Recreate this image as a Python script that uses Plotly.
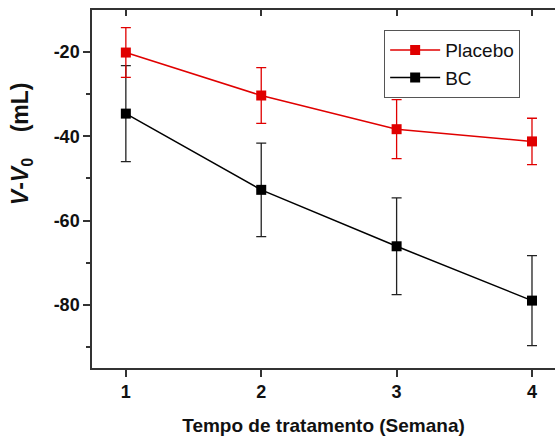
import plotly.graph_objects as go

weeks = [1, 2, 3, 4]
placebo = [-20.1, -30.3, -38.3, -41.2]
placebo_err = [5.9, 6.6, 7.0, 5.5]
bc = [-34.6, -52.7, -66.1, -79.0]
bc_err = [11.4, 11.1, 11.5, 10.7]
x_ticks = [1, 2, 3, 4]
y_ticks = [-80, -60, -40, -20]
y_tick_labels = ["-80", "-60", "-40", "-20"]

RED = "#e00000"
BLK = "#000000"
AX = "#333333"
FONT = "Liberation Sans"

fig = go.Figure()
fig.add_trace(go.Scatter(
    x=weeks, y=bc, name="BC", mode="lines+markers",
    line=dict(color=BLK, width=1.5),
    marker=dict(symbol="square", size=10, color=BLK),
    error_y=dict(type="data", array=bc_err, visible=True, color="#222222", thickness=1.3, width=5),
    legendrank=2,
))
fig.add_trace(go.Scatter(
    x=weeks, y=placebo, name="Placebo", mode="lines+markers",
    line=dict(color=RED, width=1.5),
    marker=dict(symbol="square", size=10, color=RED),
    error_y=dict(type="data", array=placebo_err, visible=True, color=RED, thickness=1.3, width=5),
    legendrank=1,
))
# invisible trace to carry the top (mirror) axis with inward ticks
fig.add_trace(go.Scatter(x=weeks, y=bc, xaxis="x2", mode="markers",
                         marker=dict(opacity=0), showlegend=False, hoverinfo="skip"))

fig.update_layout(
    width=555, height=436,
    margin=dict(l=92, r=0, t=10, b=68),
    paper_bgcolor="white", plot_bgcolor="white",
    font=dict(family=FONT, color="#111111"),
    showlegend=True,
    legend=dict(x=0.631, y=0.944, xanchor="left", yanchor="top",
                bordercolor="#555555", borderwidth=1, bgcolor="white",
                font=dict(family=FONT, size=19, color="#111111"),
                tracegroupgap=0, itemwidth=50),
    xaxis=dict(range=[0.75, 4.17], tickvals=x_ticks, ticks="outside", ticklen=7,
               tickwidth=1.5, tickcolor=AX, showline=True, linecolor=AX, linewidth=1.5,
               showgrid=False, zeroline=False,
               tickfont=dict(family=FONT, size=18, color="#111111", weight="bold"),
               title=dict(text="<b>Tempo de tratamento (Semana)</b>",
                          font=dict(family=FONT, size=19, color="#111111"), standoff=18)),
    xaxis2=dict(range=[0.75, 4.17], overlaying="x", side="top", tickvals=x_ticks,
                ticks="inside", ticklen=6, tickwidth=1.5, tickcolor=AX,
                showticklabels=False, showline=True, linecolor=AX, linewidth=1.5,
                showgrid=False, zeroline=False),
    yaxis=dict(range=[-95, -10], tickvals=y_ticks, ticktext=y_tick_labels,
               ticks="outside", ticklen=7,
               tickwidth=1.5, tickcolor=AX, showline=True, linecolor=AX, linewidth=1.5,
               showgrid=False, zeroline=False,
               minor=dict(tickvals=[-90, -70, -50, -30], ticks="outside", ticklen=4,
                          tickwidth=1.5, tickcolor=AX),
               tickfont=dict(family=FONT, size=18, color="#111111", weight="bold")),
)

fig.add_annotation(
    text="<b><i>V</i>-<i>V</i><sub>0</sub>    (mL)</b>",
    xref="paper", yref="paper", x=-0.152, y=0.627,
    xanchor="center", yanchor="middle", textangle=-90, showarrow=False,
    font=dict(family=FONT, size=23, color="#111111"),
)

fig.write_html("out.html")
